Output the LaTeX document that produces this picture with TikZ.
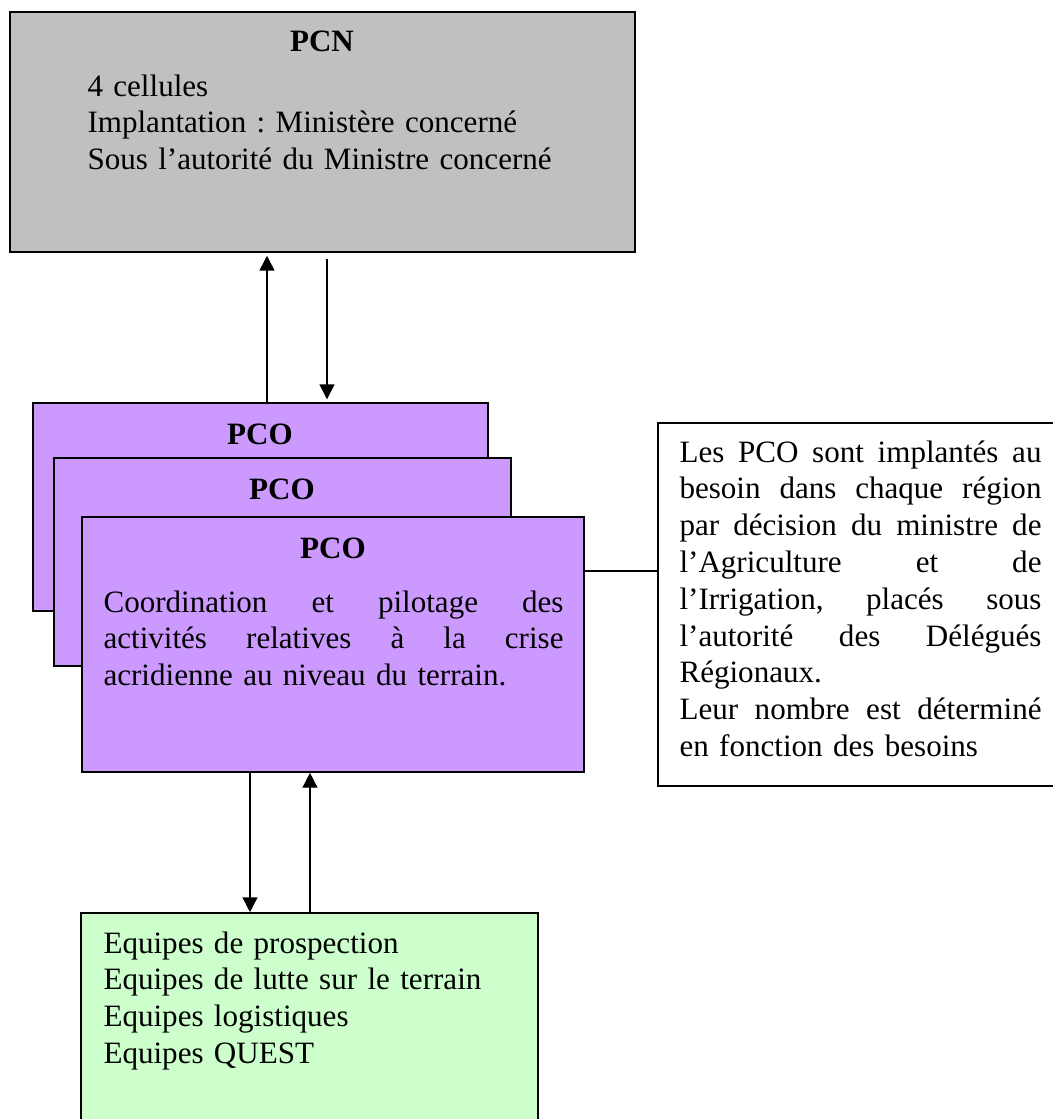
\documentclass[tikz,border=0pt]{standalone}
\usepackage{fontspec}
\setmainfont{Liberation Serif}
\usetikzlibrary{fit,arrows.meta}
\definecolor{pcngray}{HTML}{C0C0C0}
\definecolor{pcopurple}{HTML}{CC99FF}
\definecolor{teamgreen}{HTML}{CCFFCC}
\frenchspacing
\begin{document}
\begin{tikzpicture}[x=0.375pt,y=-0.375pt,
  box/.style={draw=black, line width=0.6pt, inner sep=0pt, rectangle},
  titletext/.style={anchor=base, inner sep=0pt, font=\fontsize{11.65pt}{13.8pt}\selectfont\bfseries},
  bodytext/.style={anchor=base west, inner sep=0pt, align=left, font=\fontsize{11.65pt}{13.8pt}\selectfont},
  link/.style={line width=0.55pt, -{Triangle[length=5.6pt,width=5.6pt]}},
  plainlink/.style={line width=0.55pt},
]
\useasboundingbox (0,0) rectangle (1053,1119);
\clip (0,0) rectangle (1053,1119);

% PCN
\node[box, fill=pcngray, fit={(10,12) (635,252)}] (pcn) {};
\node[titletext] (pcnt) at (322,51) {PCN};
\node[bodytext, text width=200pt] (pcnb) at (87,96) {4 cellules\\
Implantation : Ministère concerné\\
Sous l’autorité du Ministre concerné};

% PCO stack
\node[box, fill=pcopurple, fit={(33,403) (488,611)}] (pco1) {};
\node[titletext] (pco1t) at (260,444) {PCO};
\node[box, fill=pcopurple, fit={(54,458) (511,666)}] (pco2) {};
\node[titletext] (pco2t) at (282,499) {PCO};
\node[box, fill=pcopurple, fit={(82,517) (584,772)}] (pco3) {};
\node[titletext] (pco3t) at (333,558) {PCO};
\node[bodytext, text width=172.5pt] (pco3b) at (103,612) {%
\makebox[172.5pt][s]{Coordination\hfill et\hfill pilotage\hfill des}\\
\makebox[172.5pt][s]{activités\hfill relatives\hfill à\hfill la\hfill crise}\\
acridienne au niveau du terrain.};

% Note
\node[box, fill=white, fit={(658,423) (1070,786)}] (note) {};
\node[bodytext, text width=135.75pt] (noteb) at (679,462) {%
\makebox[135.75pt][s]{Les\hfill PCO\hfill sont\hfill implantés\hfill au}\\
\makebox[135.75pt][s]{besoin\hfill dans\hfill chaque\hfill région}\\
\makebox[135.75pt][s]{par\hfill décision\hfill du\hfill ministre\hfill de}\\
\makebox[135.75pt][s]{l’Agriculture\hfill et\hfill de}\\
\makebox[135.75pt][s]{l’Irrigation,\hfill placés\hfill sous}\\
\makebox[135.75pt][s]{l’autorité\hfill des\hfill Délégués}\\
Régionaux.\\
\makebox[135.75pt][s]{Leur\hfill nombre\hfill est\hfill déterminé}\\
en fonction des besoins};

% Teams
\node[box, fill=teamgreen, fit={(81,913) (538,1135)}] (teams) {};
\node[bodytext, text width=200pt] (teamsb) at (103,953) {Equipes de prospection\\
Equipes de lutte sur le terrain\\
Equipes logistiques\\
Equipes QUEST};

% Connectors
\coordinate (u1) at (267,0);
\coordinate (d1) at (327,0);
\coordinate (d2) at (250,0);
\coordinate (u2) at (310,0);
\coordinate (sl) at (0,571);
\draw[link, shorten >=1.1pt] (pco1.north -| u1) -- (pcn.south -| u1);
\draw[link, shorten <=2.25pt, shorten >=1.1pt] (pcn.south -| d1) -- (pco1.north -| d1);
\draw[link] (pco3.south -| d2) -- (teams.north -| d2);
\draw[link] (teams.north -| u2) -- (pco3.south -| u2);
\draw[plainlink] (pco3.east |- sl) -- (note.west |- sl);
\end{tikzpicture}
\end{document}
